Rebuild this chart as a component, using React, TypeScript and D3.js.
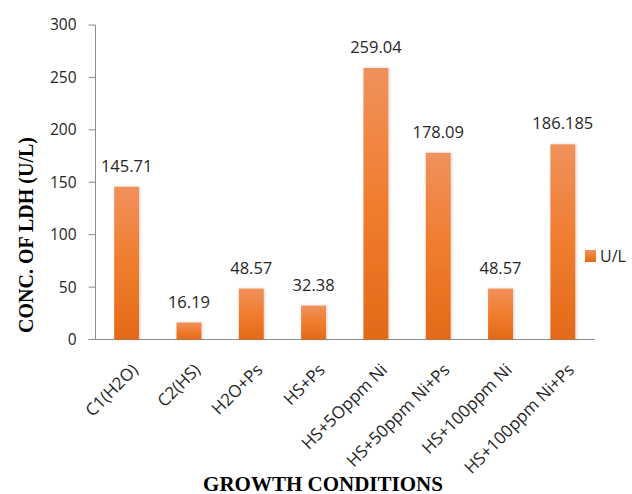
import React from "react";
import * as d3 from "d3";

const categories = ["C1(H2O)", "C2(HS)", "H2O+Ps", "HS+Ps", "HS+5Oppm Ni", "HS+50ppm Ni+Ps", "HS+100ppm Ni", "HS+100ppm Ni+Ps"];
const values = [145.71, 16.19, 48.57, 32.38, 259.04, 178.09, 48.57, 186.185];
const valueLabels = ["145.71", "16.19", "48.57", "32.38", "259.04", "178.09", "48.57", "186.185"];
const yTicks = [0, 50, 100, 150, 200, 250, 300];
const seriesName = "U/L";

const W = 632, H = 494;
const left = 95.5, right = 594, top = 25, bottom = 339.5;

export default function App() {
  const x = d3.scaleBand<string>().domain(categories).range([left, right]).paddingInner(0.6).paddingOuter(0.3);
  const y = d3.scaleLinear().domain([0, 300]).range([bottom, top]);
  const sans = "'Open Sans', 'Liberation Sans', sans-serif";
  const serif = "'Liberation Serif', 'Times New Roman', serif";
  return (
    <svg width={W} height={H} style={{ position: "absolute", left: 0, top: 0 }}>
      <defs>
        <linearGradient id="barGrad" x1="0" y1="0" x2="0" y2="1">
          <stop offset="0" stopColor="#F0915C" />
          <stop offset="0.5" stopColor="#F07D2E" />
          <stop offset="1" stopColor="#E26A18" />
        </linearGradient>
        <filter id="sh" x="-30%" y="-10%" width="160%" height="120%">
          <feGaussianBlur in="SourceAlpha" stdDeviation="1.5" />
          <feOffset dx="1" dy="0" result="b" />
          <feFlood floodColor="#000" floodOpacity="0.18" />
          <feComposite in2="b" operator="in" />
          <feMerge>
            <feMergeNode />
            <feMergeNode in="SourceGraphic" />
          </feMerge>
        </filter>
      </defs>
      <rect width={W} height={H} fill="#fff" />
      {/* y axis */}
      <line x1={left} x2={left} y1={top} y2={bottom} stroke="#8c8c8c" />
      {yTicks.map((t) => (
        <g key={t}>
          <line x1={left - 7} x2={left} y1={y(t)} y2={y(t)} stroke="#8c8c8c" />
          <text x={left - 19} y={y(t)} dy="0.35em" textAnchor="end" fontFamily={sans} fontSize={15.5} fill="#262626">{t}</text>
        </g>
      ))}
      {/* x axis */}
      <line x1={left - 7} x2={right + 1} y1={bottom} y2={bottom} stroke="#8c8c8c" />
      {categories.map((c, i) => {
        const bx = x(c)!;
        const bw = x.bandwidth();
        const cx = bx + bw / 2;
        return (
          <g key={c}>
            <rect x={bx} y={y(values[i])} width={bw} height={bottom - y(values[i])} fill="url(#barGrad)" filter="url(#sh)" />
            <text x={cx} y={y(values[i]) - 15} textAnchor="middle" fontFamily={sans} fontSize={16.5} fill="#262626">{valueLabels[i]}</text>
            <text transform={`translate(${cx + 4},${bottom + 23}) rotate(-45)`} textAnchor="end" dy="0.7em" fontFamily={sans} fontSize={17} fill="#262626">{c}</text>
          </g>
        );
      })}
      {/* legend */}
      <rect x={585} y={250} width={11} height={12} fill="url(#barGrad)" />
      <text x={600} y={256} dy="0.36em" fontFamily={sans} fontSize={16} fill="#262626">{seriesName}</text>
      {/* axis titles */}
      <text transform={`translate(33,235) rotate(-90)`} textAnchor="middle" fontFamily={serif} fontWeight="bold" fontSize={20} fill="#000">CONC. OF LDH (U/L)</text>
      <text x={323} y={491} textAnchor="middle" fontFamily={serif} fontWeight="bold" fontSize={21} fill="#000">GROWTH CONDITIONS</text>
    </svg>
  );
}
